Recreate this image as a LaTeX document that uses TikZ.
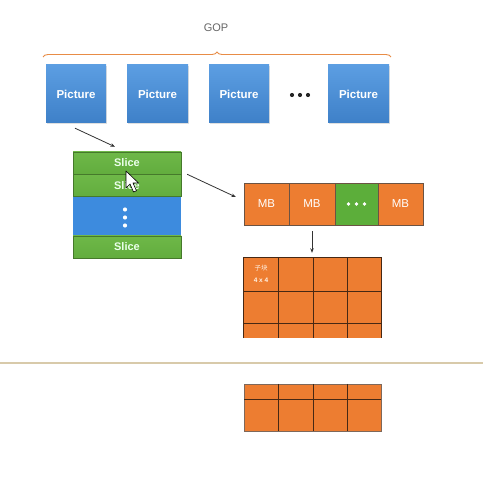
\documentclass[tikz,border=0pt]{standalone}
\usepackage{fontspec}
\setmainfont{Liberation Sans}
\newfontfamily\cjk{Noto Sans CJK SC}
\usetikzlibrary{arrows.meta,shadows,decorations.pathreplacing}
\definecolor{picblue}{RGB}{74,144,217}
\definecolor{picblueT}{RGB}{92,158,226}
\definecolor{picblueB}{RGB}{62,128,200}
\definecolor{slgreen}{RGB}{98,173,62}
\definecolor{slgreenT}{RGB}{110,184,72}
\definecolor{slblue}{RGB}{61,139,222}
\definecolor{mborange}{RGB}{237,125,49}
\definecolor{mbgreen}{RGB}{92,174,58}
\definecolor{gridline}{RGB}{70,40,20}
\definecolor{tan}{RGB}{216,202,170}
\definecolor{braceor}{RGB}{232,140,70}
\tikzset{
  picbox/.style={rectangle, top color=picblueT, bottom color=picblueB, draw=none,
     minimum width=60pt, minimum height=58pt, inner sep=0pt, text=white,
     font=\fontsize{11.5}{12}\selectfont\bfseries,
     drop shadow={opacity=0.25, shadow xshift=0.6pt, shadow yshift=-1.5pt}},
  slicebox/.style={rectangle, top color=slgreenT, bottom color=slgreen, draw=slgreen!70!black, line width=0.4pt,
     minimum width=108pt, minimum height=22pt, inner sep=0pt, text=white!92!green,
     font=\fontsize{11}{12}\selectfont\bfseries},
  mbbox/.style={rectangle, fill=mborange, draw=gridline!80, line width=0.4pt,
     minimum height=42pt, inner sep=0pt, text=white,
     font=\fontsize{11.5}{12}\selectfont},
  arr/.style={draw=black!80, line width=0.8pt, -{Stealth[length=4.5pt,width=3.5pt]}},
  gline/.style={draw=gridline, line width=0.8pt},
}
\begin{document}
\begin{tikzpicture}[x=1pt,y=-1pt]
\useasboundingbox (0,0) rectangle (483,481);
\fill[white] (0,0) rectangle (483,481);
% GOP brace
\node[text=black!60, font=\fontsize{11}{12}\selectfont] (gop) at (216,28) {GOP};
\draw[braceor, line width=0.9pt, decorate, decoration={brace, amplitude=5pt}]
  (43,57) -- (391,57);
% pictures
\node[picbox] (p1) at (76,94) {Picture};
\node[picbox, minimum width=61pt] (p2) at (157.5,94) {Picture};
\node[picbox] (p3) at (239,94) {Picture};
\coordinate (pd) at (300,95);
\foreach \dx in {-8,0,8} \fill[black!85] ([xshift=\dx pt]pd) circle (2.1pt);
\node[picbox, minimum width=61pt] (p5) at (358.5,94) {Picture};
% slices
\node[slicebox, drop shadow={opacity=0.25, shadow xshift=0.6pt, shadow yshift=-1.5pt}] (s1) at (127,163) {Slice};
\node[slicebox] (s2) at (127,185.5) {Slice};
\node[rectangle, fill=slblue, minimum width=108pt, minimum height=39pt, inner sep=0pt] (sb) at (127,216.5) {};
\foreach \dy in {-7,1,9} \fill[white] ([shift={(-2,\dy)}]sb.center) circle (2.1pt);
\node[slicebox] (s4) at (127,247) {Slice};
% cursor
\draw[fill=white, draw=black, line width=0.6pt, line join=round]
  (126,171) -- (126,188) -- (130,184) -- (133.5,192) -- (136.5,190.8) -- (133,183) -- (138.5,183) -- cycle;
% MB row
\node[mbbox, minimum width=45pt] (mb1) at (266.5,204) {MB};
\node[mbbox, minimum width=46pt] (mb2) at (312,204) {MB};
\node[mbbox, fill=mbgreen, minimum width=43pt] (mbd) at (356.5,204) {};
\foreach \dx in {-8,0,8} \fill[white] ([xshift=\dx pt]mbd.center) circle (1.9pt);
\node[mbbox, minimum width=45pt] (mb4) at (400.5,204) {MB};
% top grid
\node[rectangle, fill=mborange, minimum width=137pt, minimum height=80pt, inner sep=0pt] (grid) at (312.5,298) {};
\draw[gline] (grid.south west) -- (grid.north west) -- (grid.north east) -- (grid.south east);
\foreach \xx in {278,313,347} \draw[gline] (\xx,258) -- (\xx,338);
\foreach \yy in {291,323} \draw[gline] (244,\yy) -- (381,\yy);
\node[text=white!90!orange, font=\cjk\fontsize{6.5}{7}\selectfont] (zk) at (261,268) {子块};
\node[text=white!90!orange, font=\fontsize{6.5}{7}\selectfont\bfseries] (zk2) at (261,280) {4 x 4};
% arrows
\draw[arr] ([shift={(-1,5)}]p1.south) -- ([shift={(-12,-5)}]s1.north);
\draw[arr] ([shift={(6,0)}]s2.north east) -- ([shift={(-8,-7)}]mb1.west);
\draw[arr] ([shift={(0,6)}]mb2.south) -- ([shift={(0,-5)}]grid.north -| mb2.south);
% separator
\draw[tan, line width=2.5pt] (0,363) -- (483,363);
% bottom grid
\node[rectangle, fill=mborange, draw=gridline!70, line width=0.6pt, minimum width=137pt, minimum height=47pt, inner sep=0pt] (grid2) at (312.5,407.5) {};
\foreach \xx in {278,313,347} \draw[gline] (\xx,384) -- (\xx,431);
\draw[gline] (244,399) -- (381,399);
\end{tikzpicture}
\end{document}
